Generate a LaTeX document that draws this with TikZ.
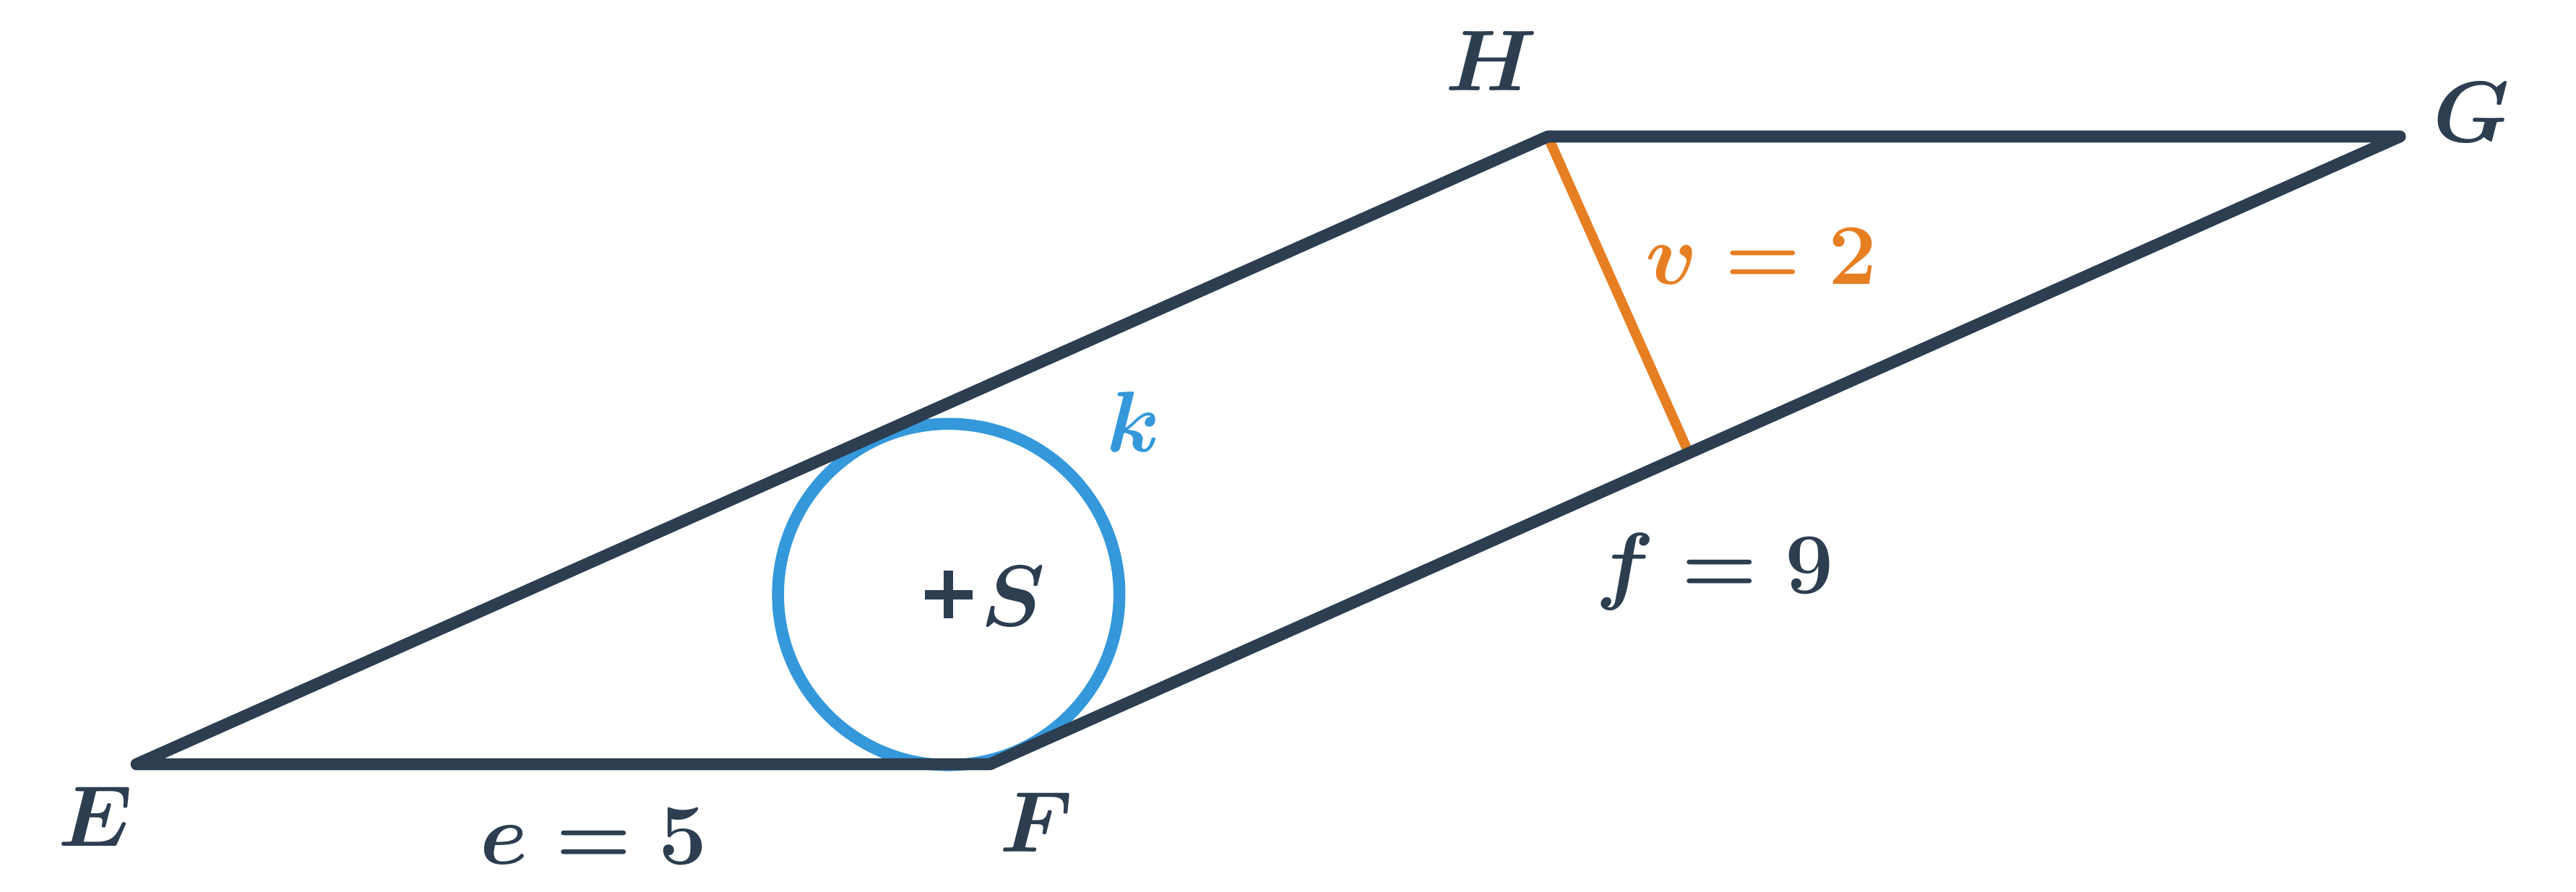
\documentclass[tikz,border=0pt]{standalone}
\usetikzlibrary{calc}
\definecolor{dark}{HTML}{2C3E50}
\definecolor{incircle}{HTML}{3498DB}
\definecolor{altitude}{HTML}{E67E22}
\begin{document}
\begin{tikzpicture}
\tikzstyle{side} = [line width=2pt,dark,line join=round,line cap=round]
\tikzstyle{lbl} = [font=\fontsize{15.5}{19}\selectfont\boldmath,dark,inner sep=0pt]
\def\h{3.679}
\useasboundingbox (-0.8,-0.749) rectangle (14.292,4.479);

\coordinate (E) at (0,0);
\coordinate (F) at (5,0);
\coordinate (G) at (13.26,\h);
\coordinate (H) at (8.268,\h);
\coordinate (S) at (4.758,0.995);
\coordinate (V) at ($(F)!(H)!(G)$);

\draw[line width=1.65pt,altitude] (H)--(V);
\draw[line width=2pt,incircle] (S) circle (1);
\draw[side] (E)--(F)--(G)--(H)--cycle;
\draw[line width=1.57pt,dark] ($(S)+(-0.14,0)$)--($(S)+(0.14,0)$);
\draw[line width=1.57pt,dark] ($(S)+(0,-0.14)$)--($(S)+(0,0.14)$);

\node (lE) at (-0.241,-0.305) [lbl] {$E$};
\node (lF) at (5.27,-0.339) [lbl] {$F$};
\node (lG) at (13.68,3.82) [lbl] {$G$};
\node (lH) at (7.94,4.12) [lbl] {$H$};
\node (lS) at (5.135,0.809) [lbl,anchor=base] {$S$};
\node (le) at (2.68,-0.588) [lbl,anchor=base] {$e = 5$};
\node (lf) at (9.245,1.0) [lbl,anchor=base] {$f = 9$};
\node (lv) at (9.52,2.815) [lbl,anchor=base,altitude] {$v = 2$};
\node (lk) at (5.84,1.83) [lbl,anchor=base,incircle] {$k$};
\end{tikzpicture}
\end{document}
